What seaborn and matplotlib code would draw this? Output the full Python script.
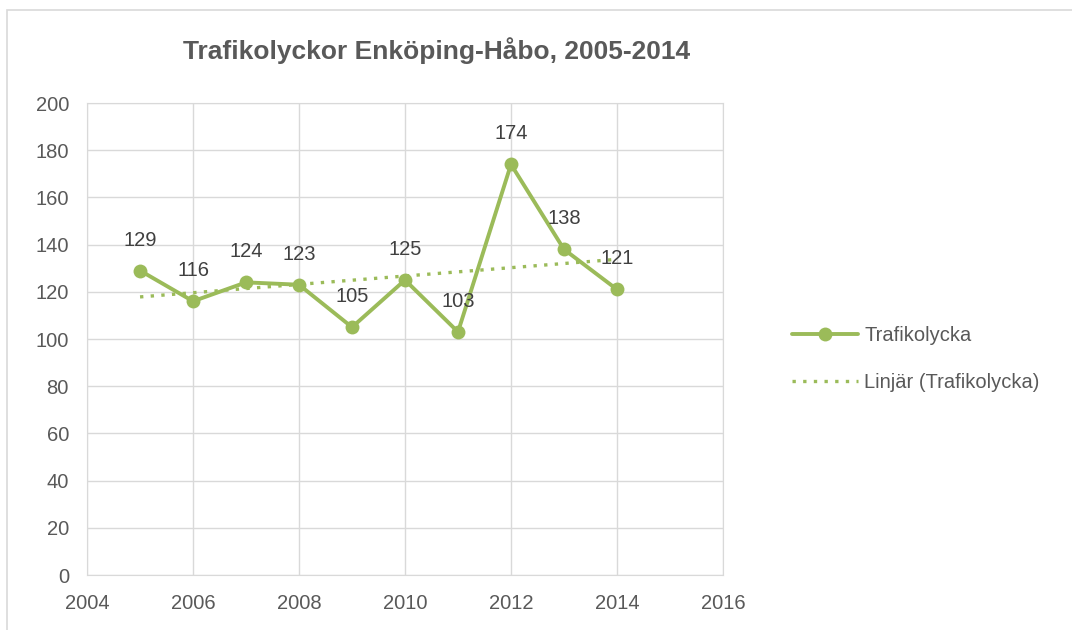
import numpy as np
import pandas as pd
import matplotlib
matplotlib.use('Agg')
import matplotlib.pyplot as plt
import seaborn as sns
from matplotlib.patches import Rectangle

# data
years = [2005, 2006, 2007, 2008, 2009, 2010, 2011, 2012, 2013, 2014]
olyckor = [129, 116, 124, 123, 105, 125, 103, 174, 138, 121]

df = pd.DataFrame({'År': years, 'Trafikolycka': olyckor})

sns.set_style('white')
plt.rcParams['font.family'] = ['Liberation Sans', 'DejaVu Sans']

green = '#9BBB59'
text_col = '#595959'
label_col = '#404040'
grid_col = '#D9D9D9'

fig = plt.figure(figsize=(10.72, 6.3), dpi=100)
ax = fig.add_axes([0.0812, 0.0873, 0.5932, 0.7492])

# chart border
fig.patches.append(Rectangle((7 / 1072, -0.01), 1.1, 0.994,
                             transform=fig.transFigure, fill=False,
                             edgecolor='#D9D9D9', linewidth=1.2))

sns.lineplot(data=df, x='År', y='Trafikolycka', ax=ax, color=green,
             linewidth=2.8, marker='o', markersize=10, markeredgewidth=0,
             label='Trafikolycka')

# linear trendline (Excel "Linjär")
k, m = np.polyfit(df['År'], df['Trafikolycka'], 1)
trend = pd.DataFrame({'År': years, 'trend': k * np.array(years) + m})
sns.lineplot(data=trend, x='År', y='trend', ax=ax, color=green,
             linewidth=2.4, linestyle=(0, (1, 2.2)),
             label='Linjär (Trafikolycka)')

for x, y in zip(years, olyckor):
    ax.annotate(str(y), (x, y), xytext=(0, 22), textcoords='offset points',
                ha='center', va='center', fontsize=14.5, color=label_col)

ax.set_xlim(2004, 2016)
ax.set_ylim(0, 200)
ax.set_xticks(range(2004, 2017, 2))
ax.set_yticks(range(0, 201, 20))
ax.grid(True, color=grid_col, linewidth=1)
for s in ax.spines.values():
    s.set_color(grid_col)
ax.tick_params(axis='both', length=0, labelsize=14.5, labelcolor=text_col)
ax.tick_params(axis='y', pad=13)
ax.tick_params(axis='x', pad=14)
ax.set_xlabel('')
ax.set_ylabel('')

fig.text(0.407, 0.92, 'Trafikolyckor Enköping-Håbo, 2005-2014',
         ha='center', va='center', fontsize=19, fontweight='bold', color=text_col)

leg = ax.legend(loc='center left', bbox_to_anchor=(1.08, 0.458), frameon=False,
                fontsize=14.5, labelcolor=text_col, handlelength=3.3,
                handletextpad=0.3, labelspacing=1.4)

fig.savefig('out.png', dpi=100)
